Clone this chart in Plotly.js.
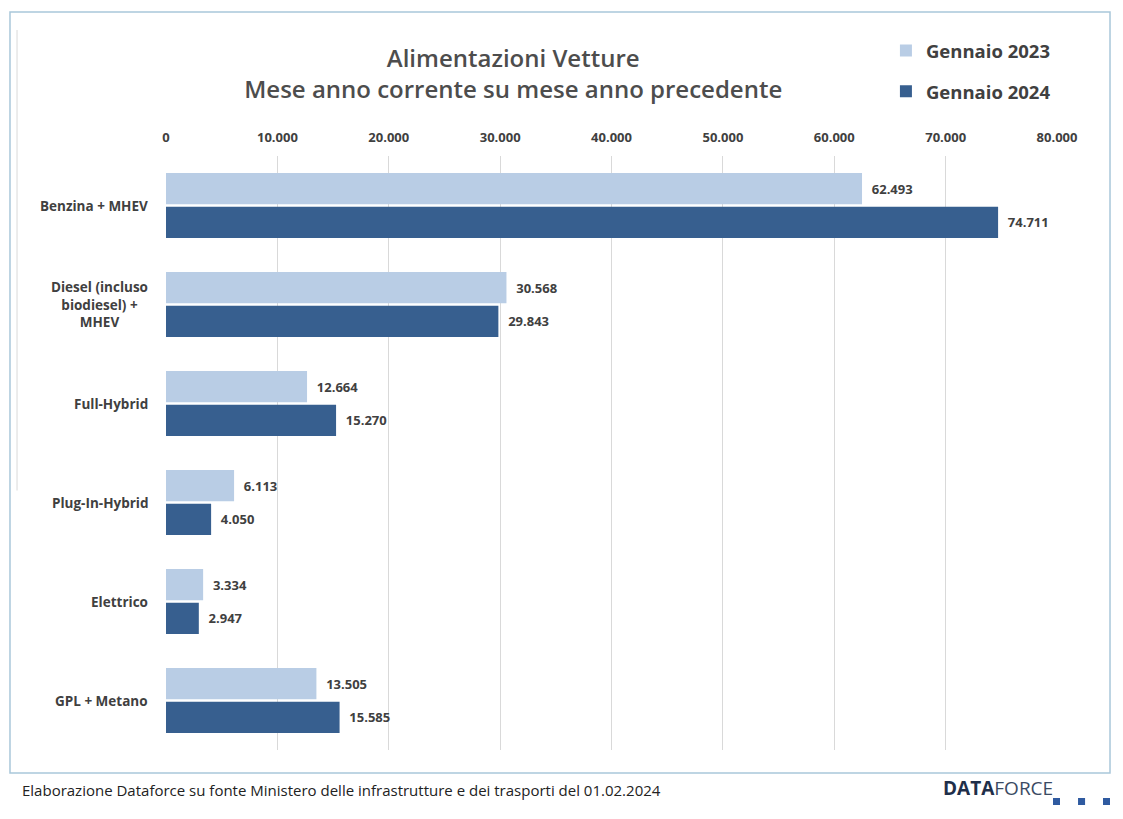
<!DOCTYPE html>
<html>
<head>
<meta charset="utf-8">
<script src="https://cdn.plot.ly/plotly-3.0.1.min.js"></script>
<style>html,body{margin:0;padding:0;background:#fff;} #chart{width:1123px;height:819px;}</style>
</head>
<body>
<div id="chart"></div>
<script>
const categories = ["Benzina + MHEV", "Diesel (incluso<br>biodiesel) +<br>MHEV", "Full-Hybrid", "Plug-In-Hybrid", "Elettrico", "GPL + Metano"];
const series2023 = [62493, 30568, 12664, 6113, 3334, 13505];
const series2024 = [74711, 29843, 15270, 4050, 2947, 15585];
const seriesNames = ["Gennaio 2023", "Gennaio 2024"];
const tickValues = [0, 10000, 20000, 30000, 40000, 50000, 60000, 70000, 80000];

const FONT = "Open Sans, Lato, sans-serif";
const LABEL = "#404040";

const traces = [
  {type: "bar", orientation: "h", name: seriesNames[0], y: categories, x: series2023,
   marker: {color: "#b9cde5"}, text: series2023, texttemplate: "  %{x:,}", textposition: "outside",
   textfont: {family: FONT, size: 13, color: LABEL, weight: "bold"}, cliponaxis: false,
   legend: "legend", hoverinfo: "x+name"},
  {type: "bar", orientation: "h", name: seriesNames[1], y: categories, x: series2024,
   marker: {color: "#375f8f"}, text: series2024, texttemplate: "  %{x:,}", textposition: "outside",
   textfont: {family: FONT, size: 13, color: LABEL, weight: "bold"}, cliponaxis: false,
   legend: "legend2", hoverinfo: "x+name"}
];

const catAnnotations = categories.map(c => ({
  xref: "paper", yref: "y", x: -0.018, y: c, xanchor: "right", yanchor: "middle",
  text: c, showarrow: false, align: "center",
  font: {family: FONT, size: 13.5, color: LABEL, weight: "bold"}
}));

const layout = {
  width: 1123, height: 819,
  margin: {l: 166, r: 66, t: 156, b: 69, pad: 0},
  paper_bgcolor: "#fff", plot_bgcolor: "#fff",
  separators: ",.",
  barmode: "group", bargap: 0.32, bargroupgap: 0.07,
  font: {family: FONT, color: LABEL},
  title: {text: "Alimentazioni Vetture<br>Mese anno corrente su mese anno precedente",
    xref: "container", yref: "container", x: 0.457, xanchor: "center", y: 0.918, yanchor: "middle",
    font: {family: FONT, size: 24, color: "#4d4d4d", weight: 600}},
  xaxis: {side: "top", range: [0, 80000], tickvals: tickValues, tickformat: ",d",
    showgrid: true, gridcolor: "#d9d9d9", gridwidth: 1, zeroline: false, showline: false,
    ticks: "", ticklabelstandoff: 10,
    tickfont: {family: FONT, size: 13, color: LABEL, weight: "bold"}, fixedrange: true},
  yaxis: {autorange: "reversed", showticklabels: false, showgrid: false, zeroline: false,
    showline: false, ticks: "", fixedrange: true},
  showlegend: true,
  legend: {x: 0.808, xanchor: "left", y: 1.177, yanchor: "middle", xref: "paper", yref: "paper",
    bgcolor: "rgba(0,0,0,0)", itemwidth: 30,
    font: {family: FONT, size: 18.5, color: LABEL, weight: "bold"}},
  legend2: {x: 0.808, xanchor: "left", y: 1.108, yanchor: "middle", xref: "paper", yref: "paper",
    bgcolor: "rgba(0,0,0,0)", itemwidth: 30,
    font: {family: FONT, size: 18.5, color: LABEL, weight: "bold"}},
  shapes: [
    {type: "rect", xref: "paper", yref: "paper", x0: -0.1751, x1: 1.0595, y0: -0.0387, y1: 1.2424,
     line: {color: "#a9c7da", width: 1.5}, fillcolor: "rgba(0,0,0,0)", layer: "below"},
    {type: "line", xref: "paper", yref: "paper", x0: -0.1672, x1: -0.1672, y0: 0.437, y1: 1.212,
     line: {color: "#e6e6e6", width: 1.5}},
    {type: "rect", xref: "paper", yref: "paper", x0: 0.9955, x1: 1.0034, y0: -0.0926, y1: -0.0808,
     line: {width: 0}, fillcolor: "#2f5aa0"},
    {type: "rect", xref: "paper", yref: "paper", x0: 1.0236, x1: 1.0315, y0: -0.0926, y1: -0.0808,
     line: {width: 0}, fillcolor: "#2f5aa0"},
    {type: "rect", xref: "paper", yref: "paper", x0: 1.0516, x1: 1.0595, y0: -0.0926, y1: -0.0808,
     line: {width: 0}, fillcolor: "#2f5aa0"}
  ],
  annotations: catAnnotations.concat([
    {xref: "paper", yref: "paper", x: -0.1639, y: -0.0673, xanchor: "left", yanchor: "middle",
     text: "Elaborazione Dataforce su fonte Ministero delle infrastrutture e dei trasporti del 01.02.2024",
     showarrow: false, font: {family: FONT, size: 15, color: "#222"}},
    {xref: "paper", yref: "paper", x: 0.870, y: -0.0640, xanchor: "left", yanchor: "middle",
     text: "<b>DATA</b><span style=\"color:#3a4a63\">FORCE</span>", showarrow: false,
     font: {family: FONT, size: 19, color: "#1f2f4a"}}
  ])
};

Plotly.newPlot("chart", traces, layout, {displayModeBar: false, responsive: false});
</script>
</body>
</html>
